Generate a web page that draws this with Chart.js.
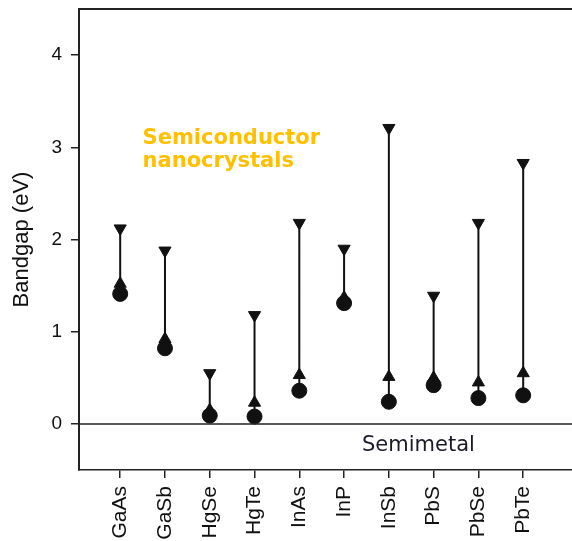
<!DOCTYPE html>
<html>
<head>
<meta charset="utf-8">
<script src="https://cdn.jsdelivr.net/npm/chart.js@4/dist/chart.umd.min.js"></script>
<style>
  body { margin: 0; background: #fff; }
  #wrap { width: 572px; height: 541px; }
</style>
</head>
<body>
<div id="wrap"><canvas id="grafico"></canvas></div>
<script>
// materials on the x axis
const materials = ['GaAs', 'GaSb', 'HgSe', 'HgTe', 'InAs', 'InP', 'InSb', 'PbS', 'PbSe', 'PbTe'];
// bandgap values (eV)
const bulkGap = [1.41, 0.82, 0.09, 0.08, 0.36, 1.31, 0.24, 0.42, 0.28, 0.31];   // circles
const lowGap  = [1.52, 0.92, 0.15, 0.23, 0.53, 1.37, 0.51, 0.50, 0.45, 0.55];   // up triangles
const highGap = [2.12, 1.88, 0.55, 1.18, 2.18, 1.90, 3.21, 1.39, 2.18, 2.83];   // down triangles
const yTicks = [0, 1, 2, 3, 4];

const ink = '#111';

const segments = [];
materials.forEach((m, i) => {
  segments.push({x: i, y: Math.min(bulkGap[i], lowGap[i])});
  segments.push({x: i, y: highGap[i]});
  segments.push({x: i, y: null});
});

// no extra padding from edge labels
const noPad = s => { s.paddingLeft = 0; s.paddingRight = 0; s.paddingTop = 0; s.paddingBottom = 0; };

const extras = {
  id: 'extras',
  afterDraw(chart) {
    const {ctx, chartArea: a, scales: {x, y}} = chart;
    ctx.save();
    ctx.strokeStyle = '#222';
    ctx.lineWidth = 2;
    ctx.beginPath();
    ctx.moveTo(a.left, a.top);
    ctx.lineTo(a.right, a.top);
    ctx.stroke();
    ctx.lineWidth = 1.5;
    ctx.beginPath();
    ctx.moveTo(a.left, y.getPixelForValue(0));
    ctx.lineTo(a.right, y.getPixelForValue(0));
    ctx.stroke();

    ctx.textBaseline = 'middle';
    ctx.textAlign = 'left';
    ctx.fillStyle = '#FFC000';
    ctx.font = 'bold 21px "DejaVu Sans"';
    ctx.fillText('Semiconductor', x.getPixelForValue(0.5), y.getPixelForValue(3.1));
    ctx.fillText('nanocrystals', x.getPixelForValue(0.5), y.getPixelForValue(2.85));

    ctx.fillStyle = '#1a1a2a';
    ctx.font = '21px "DejaVu Sans"';
    ctx.fillText('Semimetal', x.getPixelForValue(5.4), y.getPixelForValue(-0.23));
    ctx.restore();
  }
};

new Chart(document.getElementById('grafico'), {
  type: 'scatter',
  data: {
    datasets: [
      {
        data: segments,
        showLine: true,
        spanGaps: false,
        borderColor: ink,
        borderWidth: 2,
        pointRadius: 0
      },
      {
        data: materials.map((m, i) => ({x: i, y: bulkGap[i]})),
        pointStyle: 'circle',
        pointRadius: 7.5,
        backgroundColor: ink,
        borderColor: ink
      },
      {
        data: materials.map((m, i) => ({x: i, y: lowGap[i]})),
        pointStyle: 'triangle',
        pointRadius: 7,
        backgroundColor: ink,
        borderColor: ink
      },
      {
        data: materials.map((m, i) => ({x: i, y: highGap[i]})),
        pointStyle: 'triangle',
        rotation: 180,
        pointRadius: 7,
        backgroundColor: ink,
        borderColor: ink
      }
    ]
  },
  options: {
    responsive: true,
    maintainAspectRatio: false,
    animation: false,
    layout: { autoPadding: false, padding: { top: 9, right: 0, left: 0, bottom: 0 } },
    plugins: { legend: { display: false }, tooltip: { enabled: false } },
    scales: {
      x: {
        type: 'linear',
        min: -0.92,
        max: 10.09,
        afterBuildTicks: s => { s.ticks = materials.map((m, i) => ({value: i})); },
        afterFit: s => { s.height = 71; noPad(s); },
        ticks: {
          callback: v => materials[v] ?? '',
          autoSkip: false,
          minRotation: 90,
          maxRotation: 90,
          padding: 8,
          color: ink,
          font: { family: '"Liberation Sans", Arial', size: 21 }
        },
        grid: { drawOnChartArea: false, drawTicks: true, tickLength: 8, color: '#222', lineWidth: 1.5 },
        border: { display: true, color: '#222', width: 1.5 }
      },
      y: {
        min: -0.5,
        max: 4.5,
        afterBuildTicks: s => { s.ticks = yTicks.map(v => ({value: v})); },
        afterFit: s => { s.width = 79; noPad(s); },
        title: {
          display: true,
          text: 'Bandgap (eV)',
          color: ink,
          padding: { top: 9, bottom: 0 },
          font: { family: '"Liberation Sans", Arial', size: 22 }
        },
        ticks: {
          padding: 9,
          color: ink,
          font: { family: '"Liberation Sans", Arial', size: 19 }
        },
        grid: { drawOnChartArea: false, drawTicks: true, tickLength: 8, color: '#222', lineWidth: 1.5 },
        border: { display: true, color: '#222', width: 2 }
      }
    }
  },
  plugins: [extras]
});
</script>
</body>
</html>
